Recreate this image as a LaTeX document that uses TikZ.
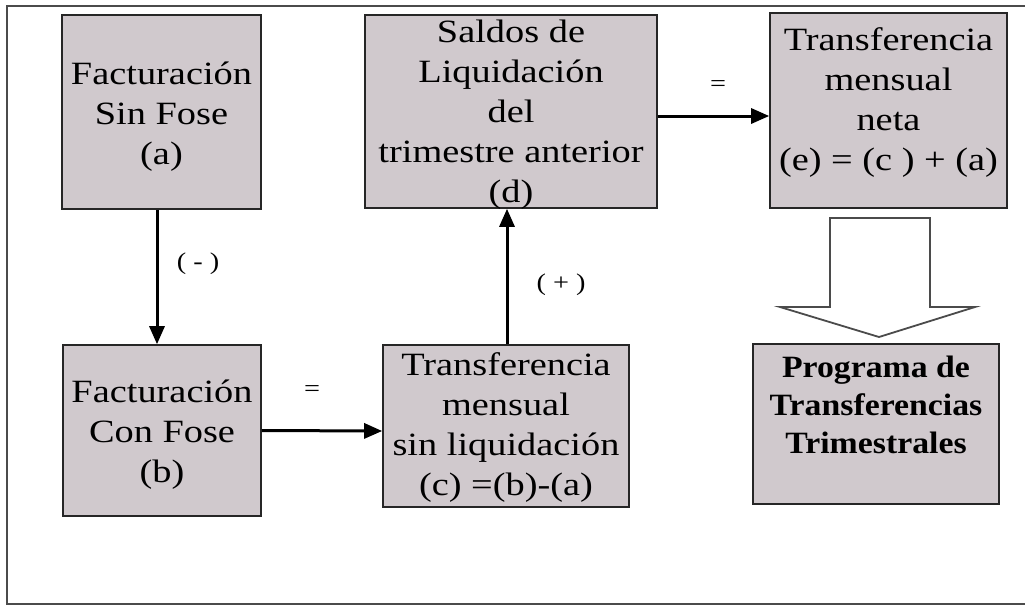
\documentclass[tikz,border=0pt]{standalone}
\usepackage{fontspec}
\setmainfont{Liberation Serif}
\newfontfamily\boxfont[FakeStretch=1.18]{Liberation Serif}
\newfontfamily\progfont[FakeStretch=1.09]{Liberation Serif}
\usetikzlibrary{arrows.meta,calc}
\definecolor{boxfill}{RGB}{208,201,205}
\definecolor{framegray}{RGB}{75,75,75}
\begin{document}
\begin{tikzpicture}[x=1pt,y=-1pt,
  box/.style={draw=black!85, line width=1.6pt, fill=boxfill, inner sep=0pt},
  boxtext/.style={align=center, inner sep=0pt, font=\boxfont\fontsize{32.5}{40}\selectfont},
  flow/.style={line width=3pt, -{Triangle[length=18pt,width=15pt]}},
  lbl/.style={font=\boxfont\fontsize{24}{28}\selectfont, inner sep=0pt}]
\useasboundingbox (0,0) rectangle (1025,606);
\fill[white] (0,0) rectangle (1025,606);
\draw[framegray, line width=2.2pt] (1025,6) -- (7,6) -- (7,604) -- (1025,604);

\node[box, minimum width=199pt, minimum height=194pt] (a) at (161.5,112) {};
\node[box, minimum width=198pt, minimum height=171pt] (b) at (162,430.5) {};
\node[box, minimum width=246pt, minimum height=162pt] (c) at (506,426) {};
\node[box, minimum width=292pt, minimum height=193pt] (d) at (511,111.5) {};
\node[box, minimum width=237pt, minimum height=195pt] (e) at (888.5,110.5) {};
\node[box, minimum width=246pt, minimum height=160pt] (f) at (876,424) {};

\node[boxtext] (at) at (161.5,116.5) {Facturación\\Sin Fose\\(a)};
\node[boxtext] (bt) at (162,435) {Facturación\\Con Fose\\(b)};
\node[boxtext] (ct) at (506,427.5) {Transferencia\\mensual\\sin liquidación\\(c) =(b)-(a)};
\node[boxtext] (dt) at (511,115) {Saldos de\\Liquidación\\del\\trimestre anterior\\(d)};
\node[boxtext] (et) at (888.5,103) {Transferencia\\mensual\\neta\\(e) = (c ) + (a)};
\node[boxtext, font=\progfont\bfseries\fontsize{31}{38}\selectfont] (ft) at (876,404.5) {Programa de\\Transferencias\\Trimestrales};

\draw[framegray, line width=1.8pt, fill=white] (830,218) -- (930,218) -- (930,307) -- (975,307) -- (879,337) -- (780,307) -- (830,307) -- cycle;

\draw[flow] ([xshift=-4.5pt]a.south) -- ([xshift=-5pt]b.north);
\draw[flow] ([xshift=1pt]c.north) -- ([xshift=-4pt]d.south);
\draw[flow] (b.east) -- ([yshift=-5pt]c.west);
\draw[flow] ([yshift=-4.5pt]d.east) -- ([yshift=-5.5pt]e.west);

\node[lbl] (minus) at (198,264) {( - )};
\node[lbl] (plus) at (561,285) {( + )};
\node[lbl] (eq1) at (312,391) {=};
\node[lbl] (eq2) at (718,86) {=};
\end{tikzpicture}
\end{document}
